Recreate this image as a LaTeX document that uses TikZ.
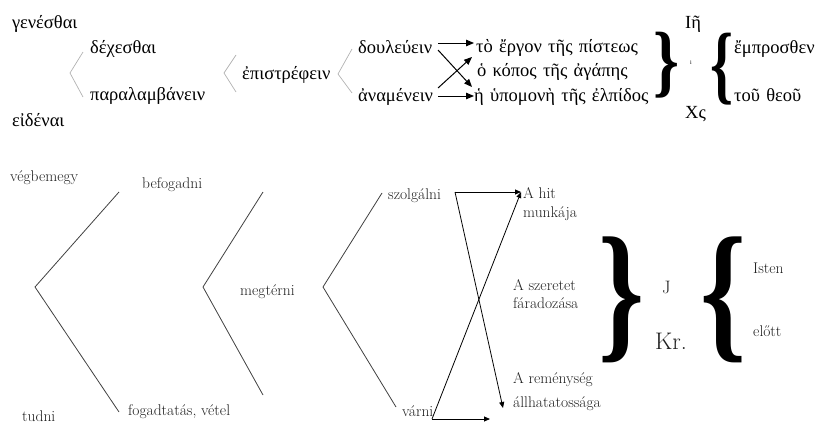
\documentclass[tikz,border=0pt]{standalone}
\usepackage{fontspec}
\newfontfamily\grkfont[Script=Greek,WordSpace=1.35]{Liberation Serif}
\newfontfamily\brfont{Liberation Serif}
\usetikzlibrary{arrows.meta}

\begin{document}
\begin{tikzpicture}[x=1pt,y=-1pt,
  gk/.style={font=\grkfont\fontsize{18.5}{18.5}\selectfont, inner sep=0pt, anchor=base west, text=black},
  hu/.style={font=\fontsize{15.5}{15.5}\selectfont, inner sep=0pt, anchor=base west, text=black!88},
  fork/.style={draw=black!30, line width=0.7pt},
  vee/.style={draw=black!75, line width=0.8pt},
  arr/.style={draw=black, line width=1pt, -{Triangle[length=8pt,width=6.5pt]}},
  arrb/.style={draw=black, line width=0.8pt, -{Triangle[length=6pt,width=5pt]}},
  brc/.style={inner sep=0pt, anchor=north west}
]
\useasboundingbox (0,0) rectangle (822,423);

% ---------------- Greek scheme ----------------
\node[gk] (gen)   at (12,28)  {γενέσθαι};
\node[gk] (dex)   at (90,53)  {δέχεσθαι};
\node[gk] (para)  at (90,100) {παραλαμβάνειν};
\node[gk] (eid)   at (12,126) {εἰδέναι};
\node[gk] (epi)   at (242,79) {ἐπιστρέφειν};
\node[gk] (doul)  at (358,53) {δουλεύειν};
\node[gk] (ana)   at (358,101) {ἀναμένειν};
\node[gk] (ergon) at (476,52) {τὸ ἔργον τῆς πίστεως};
\node[gk] (kopos) at (477,76) {ὁ κόπος τῆς ἀγάπης};
\node[gk] (hyp)   at (474,101) {ἡ ὑπομονὴ τῆς ἐλπίδος};
\node[gk] (ie)    at (685,28) {Ιῆ};
\node[gk, font=\grkfont\fontsize{6}{6}\selectfont] (mid) at (690,64) {i};
\node[gk] (xs)    at (685,118) {Χς};
\node[gk] (empr)  at (734,53) {ἔμπροσθεν};
\node[gk] (theou) at (734,101) {τοῦ θεοῦ};

\node[brc] (rbT) at (653,32) {\resizebox*{26pt}{66pt}{\brfont\bfseries\}}};
\node[brc] (lbT) at (710,33) {\resizebox*{23pt}{72pt}{\brfont\bfseries\{}};

% light forks
\coordinate (fa1) at (83,52);  \coordinate (fa) at (70,73);  \coordinate (fa2) at (83,97);
\coordinate (fb1) at (236,55); \coordinate (fb) at (224,73); \coordinate (fb2) at (236,92);
\coordinate (fc1) at (352,49); \coordinate (fc) at (338,74); \coordinate (fc2) at (352,93);
\draw[fork] (fa1) -- (fa) -- (fa2);
\draw[fork] (fb1) -- (fb) -- (fb2);
\draw[fork] (fc1) -- (fc) -- (fc2);

% arrows
\coordinate (d1) at (438,43); \coordinate (d2) at (438,50);
\coordinate (a1) at (438,88); \coordinate (a2) at (438,96);
\coordinate (t1) at (474,43); \coordinate (t2) at (472,57);
\coordinate (t3) at (472,87); \coordinate (t4) at (474,96);
\draw[arr] (d1) -- (t1);
\draw[arr] (d2) -- (t3);
\draw[arr] (a1) -- (t2);
\draw[arr] (a2) -- (t4);

% ---------------- Hungarian scheme ----------------
\node[hu] (vegb)  at (10,181)  {végbemegy};
\node[hu] (befog) at (142,188) {befogadni};
\node[hu] (fogad) at (128,415) {fogadtatás, vétel};
\node[hu] (tudni) at (22,421)  {tudni};
\node[hu] (megt)  at (240,295) {megtérni};
\node[hu] (szolg) at (388,199) {szolgálni};
\node[hu] (varni) at (402,416) {várni};
\node[hu] (hit1)  at (523,198) {A hit};
\node[hu] (hit2)  at (523,217) {munkája};
\node[hu] (sz1)   at (513,290) {A szeretet};
\node[hu] (sz2)   at (513,308) {fáradozása};
\node[hu] (rem1)  at (513,383) {A reménység};
\node[hu] (rem2)  at (513,407) {állhatatossága};
\node[hu, font=\fontsize{18}{18}\selectfont] (J)  at (662,293) {J};
\node[hu, font=\fontsize{24}{24}\selectfont] (Kr) at (655,349) {Kr.};
\node[hu] (isten) at (753,273) {Isten};
\node[hu] (elott) at (753,336) {előtt};

\node[brc] (rbB) at (598,237) {\resizebox*{46pt}{126pt}{\brfont\bfseries\}}};
\node[brc] (lbB) at (700,237) {\resizebox*{46pt}{126pt}{\brfont\bfseries\{}};

% forks
\coordinate (va1) at (119,192); \coordinate (va) at (35,287);  \coordinate (va2) at (119,412);
\coordinate (vb1) at (263,192); \coordinate (vb) at (203,287); \coordinate (vb2) at (263,395);
\coordinate (vc1) at (382,193); \coordinate (vc) at (323,287); \coordinate (vc2) at (396,407);
\draw[vee] (va1) -- (va) -- (va2);
\draw[vee] (vb1) -- (vb) -- (vb2);
\draw[vee] (vc1) -- (vc) -- (vc2);

% crossing arrows
\coordinate (S) at (455,192);
\coordinate (V) at (432,419);
\coordinate (hitTip) at (521,192);
\coordinate (remTip) at (503,408);
\coordinate (lowTip) at (490,419);
\draw[arrb] (S) -- (hitTip);
\draw[arrb] (S) -- (remTip);
\draw[arrb] (V) -- (hitTip);
\draw[arrb] (V) -- (lowTip);
\end{tikzpicture}
\end{document}
